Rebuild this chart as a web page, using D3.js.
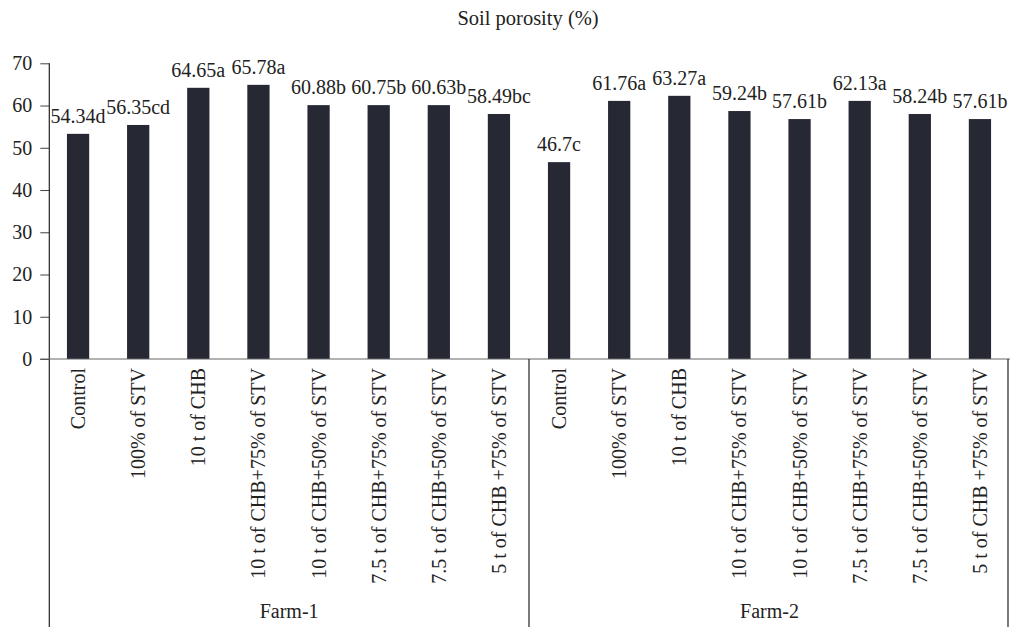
<!DOCTYPE html>
<html>
<head>
<meta charset="utf-8">
<script src="https://cdn.jsdelivr.net/npm/d3@7"></script>
<style>
  html, body { margin: 0; padding: 0; background: #fff; }
  svg text { font-family: "Liberation Serif", "Times New Roman", serif; fill: #222; }
</style>
</head>
<body>
<svg id="chart" width="1012" height="629"></svg>
<script>
const title = "Soil porosity (%)";
const farms = ["Farm-1", "Farm-2"];
const treatments = ["Control", "100% of STV", "10 t of CHB", "10 t of CHB+75% of STV",
  "10 t of CHB+50% of STV", "7.5 t of CHB+75% of STV", "7.5 t of CHB+50% of STV", "5 t of CHB +75% of STV"];
const farm1Values = [53.3, 55.4, 64.2, 64.9, 60.1, 60.1, 60.1, 58.0];
const farm2Values = [46.6, 61.1, 62.3, 58.7, 56.8, 61.1, 58.0, 56.8];
const farm1Labels = ["54.34d", "56.35cd", "64.65a", "65.78a", "60.88b", "60.75b", "60.63b", "58.49bc"];
const farm2Labels = ["46.7c", "61.76a", "63.27a", "59.24b", "57.61b", "62.13a", "58.24b", "57.61b"];
const yTicks = [0, 10, 20, 30, 40, 50, 60, 70];

const data = [];
[farm1Values, farm2Values].forEach((vals, fi) => {
  vals.forEach((v, i) => data.push({
    key: farms[fi] + "|" + i, farm: farms[fi], cat: treatments[i], value: v,
    label: (fi === 0 ? farm1Labels : farm2Labels)[i]
  }));
});

const svg = d3.select("#chart");
const x0 = 48, x1 = 1010, yBottom = 627;
const x = d3.scaleBand().domain(data.map(d => d.key)).range([x0, x1]).padding(0);
const y = d3.scaleLinear().domain([0, 70]).range([359, 63.3]);
const barW = x.bandwidth() * 0.37;
const fs = 20;

// title
svg.append("text").attr("x", 528).attr("y", 25).attr("text-anchor", "middle")
  .style("font-size", "20.5px").text(title);

// y axis
const yAxis = d3.axisLeft(y).tickValues(yTicks).tickSize(9).tickPadding(8).tickFormat(d3.format("d"));
const gy = svg.append("g").attr("transform", "translate(49.3,0)").call(yAxis);
gy.select(".domain").remove();
gy.selectAll(".tick line").attr("stroke", "#444");
gy.selectAll(".tick text").style("font-size", fs + "px").attr("fill", "#222")
  .style("font-family", '"Liberation Serif", "Times New Roman", serif');
svg.append("line").attr("x1", 49.3).attr("x2", 49.3).attr("y1", y(70)).attr("y2", yBottom)
  .attr("stroke", "#222").attr("stroke-width", 1.2);

// bars
svg.append("g").selectAll("rect").data(data).join("rect")
  .attr("x", d => x(d.key) + x.bandwidth() / 2 - barW / 2)
  .attr("y", d => y(d.value))
  .attr("width", barW)
  .attr("height", d => y(0) - y(d.value))
  .attr("fill", "#262833");

// x axis baseline
svg.append("line").attr("x1", 40).attr("x2", x1).attr("y1", y(0)).attr("y2", y(0))
  .attr("stroke", "#666").attr("stroke-width", 1.2);

// value labels
svg.append("g").selectAll("text").data(data).join("text")
  .attr("x", d => x(d.key) + x.bandwidth() / 2)
  .attr("y", d => y(d.value) - 11)
  .attr("text-anchor", "middle")
  .style("font-size", fs + "px")
  .text(d => d.label);

// category labels (rotated)
svg.append("g").selectAll("text").data(data).join("text")
  .attr("transform", d => `translate(${x(d.key) + x.bandwidth() / 2},368) rotate(-90)`)
  .attr("text-anchor", "end")
  .attr("dy", "0.35em")
  .style("font-size", fs + "px")
  .text(d => d.cat);

// group separators and farm labels
const groupEdges = farms.map(f => {
  const keys = data.filter(d => d.farm === f).map(d => d.key);
  return { farm: f, start: x(keys[0]), end: x(keys[keys.length - 1]) + x.bandwidth() };
});
groupEdges.forEach((g, i) => {
  if (i > 0) {
    svg.append("line").attr("x1", g.start).attr("x2", g.start).attr("y1", y(0)).attr("y2", yBottom)
      .attr("stroke", "#222").attr("stroke-width", 1.2);
  }
  if (i === groupEdges.length - 1) {
    svg.append("line").attr("x1", g.end - 2).attr("x2", g.end - 2).attr("y1", y(0)).attr("y2", yBottom)
      .attr("stroke", "#222").attr("stroke-width", 1.2);
  }
  const s = i === 0 ? 49.3 : g.start;
  svg.append("text").attr("x", (s + g.end) / 2).attr("y", 618).attr("text-anchor", "middle")
    .style("font-size", fs + "px").text(g.farm);
});
</script>
</body>
</html>
